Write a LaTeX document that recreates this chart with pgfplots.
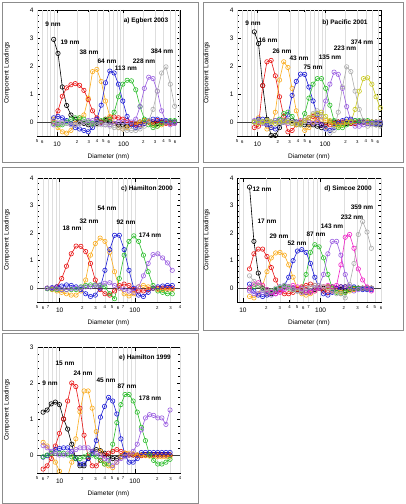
\documentclass[border=0pt]{standalone}
\usepackage{fontspec}
\setmainfont{Liberation Sans}
\usepackage{pgfplots}
\usepackage{pgfplotstable}
\pgfplotsset{compat=1.18}

\definecolor{cBk}{RGB}{0,0,0}
\definecolor{cRd}{RGB}{232,20,20}
\definecolor{cOr}{RGB}{250,172,30}
\definecolor{cBl}{RGB}{30,30,215}
\definecolor{cGn}{RGB}{45,190,45}
\definecolor{cPu}{RGB}{155,95,225}
\definecolor{cGy}{RGB}{172,172,172}
\definecolor{cYg}{RGB}{200,200,30}
\definecolor{cMg}{RGB}{240,35,200}
\definecolor{framec}{RGB}{140,140,140}
\definecolor{gridc}{RGB}{222,222,222}

% Component loadings per diameter bin
\pgfplotstableread{
D bk rd or bl gn pu gy
8.91 2.95 0.00 0.10 0.15 -0.05 -0.10 0.05
10.35 2.45 0.40 -0.20 0.20 -0.10 -0.05 0.00
12.02 1.25 0.92 -0.35 0.15 -0.10 0.00 -0.05
13.96 0.59 1.22 -0.40 0.05 0.00 -0.05 -0.05
16.22 0.25 1.33 -0.30 -0.05 0.10 -0.10 -0.10
18.84 0.10 1.37 -0.05 -0.20 0.15 -0.10 -0.10
21.88 0.00 1.31 0.15 -0.25 0.15 -0.05 -0.05
25.41 -0.05 1.13 0.25 -0.30 0.10 0.00 0.00
29.51 -0.10 0.80 0.85 -0.35 0.00 0.05 -0.05
34.28 -0.10 0.40 1.80 -0.20 -0.05 0.05 -0.10
39.81 -0.05 0.15 1.88 0.10 0.00 0.00 -0.10
46.24 0.00 0.00 1.45 0.60 0.05 -0.05 -0.10
53.70 0.05 0.10 0.75 1.40 0.10 -0.10 -0.10
62.37 0.00 0.15 0.20 1.82 0.10 -0.10 -0.15
72.44 -0.05 0.18 -0.05 1.75 0.35 -0.05 -0.20
84.14 -0.10 0.15 -0.20 1.35 0.90 0.00 -0.20
97.72 -0.10 0.10 -0.25 0.75 1.35 0.00 -0.25
113.5 -0.15 0.05 -0.20 0.20 1.49 0.00 -0.30
131.8 -0.10 -0.05 -0.10 -0.10 1.47 0.00 -0.30
153.1 -0.05 -0.10 -0.05 -0.20 1.15 0.10 -0.30
177.8 0.00 -0.10 0.00 -0.15 0.55 0.55 -0.25
206.5 0.05 -0.05 0.05 -0.05 0.10 1.20 -0.15
239.9 0.00 0.00 0.00 0.05 -0.10 1.60 0.05
278.6 -0.05 0.00 -0.10 0.10 -0.20 1.55 0.45
323.6 -0.05 0.05 -0.15 0.10 -0.15 1.10 1.10
375.8 0.00 0.00 -0.10 0.05 -0.05 0.40 1.75
436.5 0.00 -0.05 0.00 0.05 0.00 0.00 1.97
507.0 0.00 -0.05 0.00 0.00 0.05 -0.10 1.35
588.8 0.00 -0.05 0.00 0.00 0.05 -0.05 0.56
}\tabA

\pgfplotstableread{
D bk rd or bl gn pu gy yg
9.02 3.22 -0.20 0.00 0.00 0.00 0.05 0.00 0.00
10.40 2.80 -0.15 0.15 0.10 0.05 0.00 0.05 -0.05
11.99 1.30 1.30 0.00 0.10 0.00 -0.05 0.00 0.00
13.84 0.10 2.15 -0.25 -0.10 -0.05 -0.05 0.05 0.05
15.96 -0.48 2.20 -0.20 -0.20 0.00 0.00 0.00 0.00
18.41 -0.48 1.65 0.35 -0.25 0.05 0.05 -0.05 -0.05
21.23 -0.20 0.90 1.50 -0.10 0.10 0.05 -0.10 0.00
24.49 0.00 0.20 2.15 0.05 0.30 0.00 0.00 0.05
28.25 0.05 -0.35 1.95 0.25 0.35 -0.05 0.05 0.00
32.58 0.05 -0.30 1.20 0.95 0.20 -0.05 0.00 -0.05
37.58 0.00 -0.10 0.40 1.45 0.00 0.00 -0.05 -0.10
43.35 -0.05 0.00 -0.10 1.71 -0.10 0.05 -0.10 -0.05
50.00 -0.10 0.05 -0.30 1.70 0.30 0.05 0.00 0.05
57.68 -0.10 0.15 -0.20 1.25 0.85 0.00 0.15 0.15
66.53 -0.10 0.20 0.00 0.75 1.35 -0.05 0.30 0.25
76.74 -0.15 0.10 0.10 0.25 1.55 0.00 0.40 0.30
88.51 -0.20 -0.10 0.10 -0.10 1.55 0.20 0.20 0.35
102.1 -0.10 -0.15 0.05 -0.25 1.20 0.75 -0.20 0.20
117.8 0.00 -0.10 0.00 -0.30 0.60 1.35 -0.40 0.05
135.8 0.00 -0.05 -0.10 -0.20 0.05 1.78 -0.30 -0.10
156.7 0.00 0.00 -0.10 -0.05 -0.20 1.70 0.35 -0.15
180.7 -0.05 0.00 -0.05 0.05 -0.20 1.20 1.25 -0.10
208.4 -0.05 0.00 0.00 0.10 -0.10 0.55 1.97 0.00
240.4 -0.05 -0.05 0.00 0.10 0.00 0.05 1.80 0.00
277.3 -0.05 -0.05 0.00 0.05 0.05 -0.15 1.10 0.45
319.9 0.00 0.00 0.00 0.00 0.05 -0.15 0.45 1.10
368.9 0.00 0.00 0.00 0.00 0.05 -0.10 0.05 1.55
425.6 -0.05 0.00 0.00 -0.05 0.05 -0.05 -0.15 1.58
490.9 -0.05 0.00 0.00 -0.05 0.00 -0.05 -0.10 1.35
566.2 -0.10 0.00 0.00 -0.05 0.00 0.00 -0.10 0.90
653.1 -0.10 0.00 0.00 -0.05 0.00 0.00 -0.15 0.50
}\tabB

\pgfplotstableread{
D rd or bl gn pu
6.84 0.00 0.00 0.00 -0.02 0.00
7.93 0.00 -0.05 0.02 -0.03 0.00
9.18 0.05 -0.10 0.05 -0.05 -0.02
10.64 0.35 -0.15 0.08 -0.05 -0.05
12.33 0.80 -0.20 0.12 -0.05 -0.05
14.29 1.25 -0.25 0.10 -0.05 -0.02
16.56 1.53 -0.25 0.05 -0.05 0.00
19.19 1.52 -0.10 -0.05 0.05 0.02
22.23 1.33 0.30 -0.20 0.10 0.05
25.76 0.90 1.20 -0.30 0.12 0.05
29.85 0.30 1.62 -0.25 0.12 0.10
34.59 -0.05 1.82 0.00 0.10 0.12
40.09 -0.20 1.70 0.65 0.05 0.18
46.45 -0.25 1.30 1.40 -0.20 0.20
53.83 -0.10 0.60 1.92 -0.38 0.10
62.37 0.10 0.00 1.92 0.35 0.00
72.28 0.15 -0.20 1.40 1.20 -0.05
83.75 0.10 -0.28 0.65 1.70 -0.10
97.05 -0.05 -0.20 0.00 1.90 -0.15
112.5 -0.10 0.05 -0.25 1.70 0.05
130.3 -0.10 0.10 -0.30 1.20 0.45
151.0 -0.05 0.05 -0.15 0.60 0.90
175.0 0.00 0.00 0.00 0.10 1.22
202.8 0.00 -0.05 0.05 -0.10 1.25
235.0 0.00 -0.05 0.08 -0.15 1.10
272.3 0.00 -0.05 0.10 -0.20 0.92
315.5 0.00 -0.05 0.10 -0.20 0.65
}\tabC

\pgfplotstableread{
D bk rd or bl gn pu mg gy
12.19 3.67 0.70 -0.30 0.15 0.00 -0.10 0.00 0.45
13.87 1.70 1.25 -0.35 -0.10 0.05 -0.20 0.15 0.25
15.78 0.55 1.42 -0.20 -0.25 0.10 -0.20 0.20 0.10
17.95 0.00 1.42 0.10 -0.30 0.00 -0.15 0.10 -0.05
20.42 -0.20 1.15 0.60 -0.25 -0.05 -0.20 -0.05 -0.15
23.23 -0.20 0.75 1.10 -0.15 -0.10 -0.25 -0.15 -0.10
26.42 -0.10 0.30 1.28 -0.05 -0.05 -0.20 -0.20 0.00
30.06 0.00 -0.05 1.30 0.05 0.00 -0.10 -0.15 0.05
34.20 0.05 -0.20 1.20 0.10 0.05 0.00 -0.05 0.10
38.90 0.05 -0.20 0.85 0.40 0.00 0.05 0.05 0.05
44.26 0.00 -0.15 0.40 1.00 -0.05 0.00 0.10 -0.05
50.35 -0.05 -0.05 0.00 1.35 -0.10 -0.10 0.05 -0.10
57.28 -0.10 0.05 -0.20 1.40 0.00 -0.15 0.00 -0.05
65.16 -0.15 0.10 -0.25 1.30 0.50 -0.15 -0.10 0.00
74.13 -0.10 0.15 -0.20 0.90 1.30 -0.10 -0.15 0.05
84.33 -0.05 0.10 -0.10 0.40 1.58 0.00 -0.10 0.10
95.94 0.00 0.00 0.00 0.00 1.50 0.10 0.00 0.10
109.1 0.00 -0.10 0.05 -0.20 1.10 0.50 0.05 0.05
124.2 0.05 -0.15 0.05 -0.25 0.50 1.25 0.10 0.00
141.3 0.05 -0.10 0.00 -0.15 0.00 1.70 0.05 -0.10
160.7 0.00 0.00 -0.10 0.00 -0.15 1.70 0.10 -0.20
182.8 -0.05 0.05 -0.15 0.05 -0.20 1.20 0.85 -0.20
208.0 -0.10 0.05 -0.15 0.05 -0.15 0.50 1.85 -0.35
236.6 -0.05 0.00 -0.10 0.05 -0.05 0.05 1.95 0.14
269.2 0.00 -0.05 -0.05 0.05 0.00 -0.10 1.45 0.90
306.2 0.00 0.00 0.00 0.00 0.00 -0.05 0.70 1.95
348.3 0.00 0.00 0.00 -0.05 0.00 0.00 0.30 2.42
396.3 0.00 0.00 0.00 -0.05 0.00 0.00 0.05 2.04
450.8 0.00 0.00 0.00 -0.05 0.00 0.00 -0.10 1.45
}\tabD

\pgfplotstableread{
D bk rd or bl gn pu
6.03 1.19 -0.39 0.35 -0.06 -0.05 0.26
6.83 1.25 -0.30 0.25 -0.02 0.00 0.20
7.74 1.42 -0.10 0.05 0.05 0.05 0.10
8.78 1.47 0.25 -0.20 0.15 0.05 0.05
9.95 1.40 0.60 -0.45 0.18 0.05 0.00
11.29 1.00 1.00 -0.60 0.20 0.05 0.00
12.79 0.72 1.50 -0.60 0.20 0.00 0.05
14.50 0.30 2.00 -0.20 0.10 -0.05 0.10
16.44 -0.10 1.90 0.45 -0.10 -0.10 0.15
18.64 -0.30 1.30 1.20 -0.25 -0.10 0.20
21.13 -0.30 0.55 1.78 -0.25 -0.05 0.20
23.96 -0.10 -0.05 1.78 -0.10 0.00 0.20
27.16 0.10 -0.30 1.30 0.05 0.00 0.10
30.80 0.15 -0.30 0.65 0.40 -0.05 0.05
34.91 0.12 -0.15 0.10 1.05 -0.15 0.00
39.58 0.05 0.00 -0.25 1.35 -0.25 -0.10
44.87 -0.05 0.05 -0.30 1.60 -0.25 -0.15
50.87 -0.10 0.10 -0.35 1.50 0.30 -0.30
57.68 -0.10 0.15 -0.20 1.14 0.90 -0.20
65.39 -0.05 0.10 -0.05 0.45 1.40 -0.10
74.13 0.00 0.05 0.05 0.00 1.68 -0.05
84.04 0.00 0.00 0.05 -0.20 1.68 0.00
95.28 0.00 0.00 0.03 -0.20 1.50 0.10
108.0 0.00 -0.02 0.00 -0.10 1.19 0.30
122.5 0.00 -0.02 0.00 0.07 0.77 0.70
138.8 0.00 0.00 -0.02 0.07 0.40 1.03
157.4 0.00 0.00 -0.03 0.07 0.00 1.12
178.4 0.00 0.00 -0.03 0.07 -0.15 1.10
202.3 0.00 0.00 -0.05 0.07 -0.25 1.03
229.3 0.00 0.00 -0.05 0.07 -0.25 1.03
260.0 0.00 0.00 -0.05 0.07 -0.20 0.85
294.8 0.00 0.00 -0.05 0.07 -0.12 1.25
}\tabE

\pgfplotsset{
  every axis/.append style={
    scale only axis, anchor=south west,
    ymin=-0.5,
    minor y tick num=4,
    xtick={10,100}, xticklabels={10,100},
    xminorgrids=false, xmajorgrids=true,
    major grid style={gridc, line width=0.3pt},
    axis line style={line width=0.7pt},
    tick style={black, line width=0.5pt},
    major tick length=3.5pt, minor tick length=2pt,
    tick align=inside,
    /pgf/number format/assume math mode=true,
    tick label style={font=\fontsize{6.5}{7}\selectfont},
    xticklabel style={yshift=-2.5pt},
    extra x tick style={major tick length=0pt,
      tick style={draw=gridc, line width=0.3pt},
      major grid style={draw=gridc, line width=0.3pt},
      xticklabel style={font=\fontsize{4.3}{5}\selectfont, yshift=2pt}},
    xlabel={Diameter (nm)}, ylabel={Component Loadings},
    label style={font=\fontsize{6.5}{7}\selectfont},
    xlabel style={at={(axis description cs:0.5,-0.165)}, anchor=center},
    ylabel style={at={(axis description cs:-0.21,0.5)}, anchor=center},
  },
  every axis plot/.append style={mark=o, mark size=2.2pt, line width=0.6pt, mark options={solid}},
}

% bold in-plot annotations, placed by page position (x, distance from top)
\newcommand{\lab}[3]{\node[font=\bfseries\fontsize{6.5}{7}\selectfont, inner sep=0pt] at (#1pt,{(504-#2)*1pt}) {#3};}

\begin{document}
\begin{tikzpicture}
\path[use as bounding box] (0pt,0pt) rectangle (405pt,504pt);
\draw[framec, line width=0.8pt] (2pt,342pt) rectangle (198pt,502pt);
\draw[framec, line width=0.8pt] (203pt,342pt) rectangle (403pt,502pt);
\draw[framec, line width=0.8pt] (2pt,174pt) rectangle (198pt,337pt);
\draw[framec, line width=0.8pt] (203pt,174pt) rectangle (403pt,337pt);
\draw[framec, line width=0.8pt] (2pt,1pt) rectangle (198pt,171pt);

% a) Egbert 2003
\begin{semilogxaxis}[at={(37pt,368pt)}, width=143pt, height=126pt, xmin=5, xmax=710,
  ymax=4, ytick={0,1,2,3,4}, yticklabels={0,1,2,3,4},
  extra x ticks={5,6,7,8,9,20,30,40,50,60,70,80,90,200,300,400,500,600,700},
  extra x tick labels={5,6,{},{},{},2,3,4,5,6,{},{},{},2,3,4,5,6,{}}]
\draw[black!75, line width=0.5pt] (axis cs:5,0) -- (axis cs:710,0);
\addplot[cBk] table[x=D,y=bk]{\tabA};
\addplot[cRd] table[x=D,y=rd]{\tabA};
\addplot[cOr] table[x=D,y=or]{\tabA};
\addplot[cBl] table[x=D,y=bl]{\tabA};
\addplot[cGn] table[x=D,y=gn]{\tabA};
\addplot[cPu] table[x=D,y=pu]{\tabA};
\addplot[cGy] table[x=D,y=gy]{\tabA};
\end{semilogxaxis}
\lab{146}{21}{a) Egbert 2003}
\lab{53}{24}{9 nm}
\lab{70}{42}{19 nm}
\lab{89}{52}{38 nm}
\lab{107}{61}{64 nm}
\lab{126}{68}{113 nm}
\lab{144}{61}{228 nm}
\lab{162}{51}{384 nm}

% b) Pacific 2001
\begin{semilogxaxis}[at={(237pt,368pt)}, width=144pt, height=126pt, xmin=5, xmax=670,
  ymax=4, ytick={0,1,2,3,4}, yticklabels={0,1,2,3,4},
  extra x ticks={5,6,7,8,9,20,30,40,50,60,70,80,90,200,300,400,500,600},
  extra x tick labels={5,6,{},{},{},2,3,4,5,6,{},{},{},2,3,4,5,6}]
\draw[black!75, line width=0.5pt] (axis cs:5,0) -- (axis cs:670,0);
\addplot[cBk] table[x=D,y=bk]{\tabB};
\addplot[cRd] table[x=D,y=rd]{\tabB};
\addplot[cOr] table[x=D,y=or]{\tabB};
\addplot[cBl] table[x=D,y=bl]{\tabB};
\addplot[cGn] table[x=D,y=gn]{\tabB};
\addplot[cPu] table[x=D,y=pu]{\tabB};
\addplot[cGy] table[x=D,y=gy]{\tabB};
\addplot[cYg] table[x=D,y=yg]{\tabB};
\end{semilogxaxis}
\lab{345}{23}{b) Pacific 2001}
\lab{253}{23}{9 nm}
\lab{268}{40}{16 nm}
\lab{282}{51}{26 nm}
\lab{299}{58}{43 nm}
\lab{313}{67}{75 nm}
\lab{330}{57}{135 nm}
\lab{345}{48}{223 nm}
\lab{362}{42}{374 nm}

% c) Hamilton 2000
\begin{semilogxaxis}[at={(37pt,202pt)}, width=143pt, height=124pt, xmin=5, xmax=400,
  ymax=4, ytick={0,1,2,3,4}, yticklabels={0,1,2,3,4},
  extra x ticks={5,6,7,8,9,20,30,40,50,60,70,80,90,200,300,400},
  extra x tick labels={5,6,7,{},{},2,3,4,5,6,7,{},{},2,3,4}]
\draw[black!75, line width=0.5pt] (axis cs:5,0) -- (axis cs:400,0);
\addplot[cRd] table[x=D,y=rd]{\tabC};
\addplot[cOr] table[x=D,y=or]{\tabC};
\addplot[cBl] table[x=D,y=bl]{\tabC};
\addplot[cGn] table[x=D,y=gn]{\tabC};
\addplot[cPu] table[x=D,y=pu]{\tabC};
\end{semilogxaxis}
\lab{147}{189}{c) Hamilton 2000}
\lab{72}{228}{18 nm}
\lab{89}{221}{32 nm}
\lab{107}{208}{54 nm}
\lab{126}{222}{92 nm}
\lab{150}{235}{174 nm}

% d) Simcoe 2000
\begin{semilogxaxis}[at={(237pt,202pt)}, width=144pt, height=124pt, xmin=8.4, xmax=600,
  ymax=4, ytick={0,1,2,3,4}, yticklabels={0,1,2,3,4},
  extra x ticks={9,20,30,40,50,60,70,80,90,200,300,400,500,600},
  extra x tick labels={{},2,3,4,5,6,7,{},{},2,3,4,5,6}]
\draw[black!75, line width=0.5pt] (axis cs:8.4,0) -- (axis cs:600,0);
\addplot[cBk] table[x=D,y=bk]{\tabD};
\addplot[cRd] table[x=D,y=rd]{\tabD};
\addplot[cOr] table[x=D,y=or]{\tabD};
\addplot[cBl] table[x=D,y=bl]{\tabD};
\addplot[cGn] table[x=D,y=gn]{\tabD};
\addplot[cPu] table[x=D,y=pu]{\tabD};
\addplot[cMg] table[x=D,y=mg]{\tabD};
\addplot[cGy] table[x=D,y=gy]{\tabD};
\end{semilogxaxis}
\lab{348}{189}{d) Simcoe 2000}
\lab{262}{189}{12 nm}
\lab{267}{221}{17 nm}
\lab{279}{236}{29 nm}
\lab{297}{243}{52 nm}
\lab{316}{234}{87 nm}
\lab{332}{226}{143 nm}
\lab{352}{217}{232 nm}
\lab{362}{207}{359 nm}

% e) Hamilton 1999
\begin{semilogxaxis}[at={(37pt,31pt)}, width=143pt, height=126pt, xmin=5, xmax=400,
  ymax=3, ytick={0,1,2,3}, yticklabels={0,1,2,3},
  extra x ticks={5,6,7,8,9,20,30,40,50,60,70,80,90,200,300,400},
  extra x tick labels={5,6,7,{},{},2,3,4,5,6,7,{},{},2,3,4}]
\draw[black!75, line width=0.5pt] (axis cs:5,0) -- (axis cs:400,0);
\addplot[cBk] table[x=D,y=bk]{\tabE};
\addplot[cRd] table[x=D,y=rd]{\tabE};
\addplot[cOr] table[x=D,y=or]{\tabE};
\addplot[cBl] table[x=D,y=bl]{\tabE};
\addplot[cGn] table[x=D,y=gn]{\tabE};
\addplot[cPu] table[x=D,y=pu]{\tabE};
\end{semilogxaxis}
\lab{145}{358}{e) Hamilton 1999}
\lab{50}{383}{9 nm}
\lab{65}{363}{15 nm}
\lab{83}{373}{24 nm}
\lab{106}{380}{45 nm}
\lab{127}{386}{87 nm}
\lab{150}{398}{178 nm}
\end{tikzpicture}
\end{document}
